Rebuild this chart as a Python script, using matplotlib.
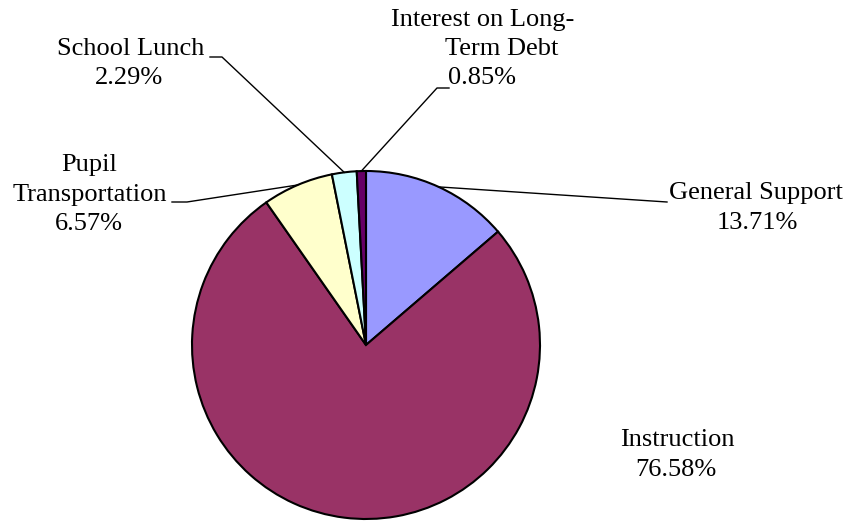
import numpy as np
import matplotlib
matplotlib.use("Agg")
import matplotlib.pyplot as plt

# Expenditure shares (percent)
categories = ["General Support", "Instruction", "Pupil Transportation",
              "School Lunch", "Interest on Long-Term Debt"]
shares = [13.71, 76.58, 6.57, 2.29, 0.85]
colors = ["#9999FF", "#993366", "#FFFFCC", "#CCFFFF", "#660066"]

W, H = 852, 521


def py(y):
    # pixel row (top origin) -> data y
    return H - y


fig = plt.figure(figsize=(W / 100, H / 100), dpi=100)
ax = fig.add_axes([0, 0, 1, 1])

cx, cy, r = 366, py(345), 174
wedges, _ = ax.pie(shares, colors=colors, startangle=90, counterclock=False,
                   center=(cx, cy), radius=r,
                   wedgeprops=dict(edgecolor="black", linewidth=1.5))

ax.set_xlim(0, W)
ax.set_ylim(0, H)
ax.set_aspect("equal")
ax.axis("off")

font = dict(family="Liberation Serif", fontsize=19, color="black",
            ha="center", va="center")

# label lines: text rows with their pixel positions
label_rows = {
    "General Support": [("General Support", 756, 193)],
    "Instruction": [("Instruction", 677, 440)],
    "Pupil Transportation": [("Pupil", 89, 165), ("Transportation", 90, 195)],
    "School Lunch": [("School Lunch", 131, 49)],
    "Interest on Long-Term Debt": [("Interest on Long-", 483, 20),
                                   ("Term Debt", 502, 49)],
}
pct_pos = {
    "General Support": (757, 223),
    "Instruction": (676, 470),
    "Pupil Transportation": (89, 224),
    "School Lunch": (129, 78),
    "Interest on Long-Term Debt": (482, 78),
}
# leader lines: label-side points, ending at the wedge middle on the rim
leaders = {
    "General Support": [(667, 202)],
    "Pupil Transportation": [(172, 202), (187, 202)],
    "School Lunch": [(210, 57), (222, 57)],
    "Interest on Long-Term Debt": [(449, 88), (437, 88)],
}

for name, share, w in zip(categories, shares, wedges):
    for txt, x, y in label_rows[name]:
        ax.text(x, py(y), txt, **font)
    x, y = pct_pos[name]
    ax.text(x, py(y), f"{share:.2f}%", **font)
    if name in leaders:
        mid = np.deg2rad((w.theta1 + w.theta2) / 2)
        ex, ey = cx + r * np.cos(mid), cy + r * np.sin(mid)
        xs = [p[0] for p in leaders[name]] + [ex]
        ys = [py(p[1]) for p in leaders[name]] + [ey]
        ax.plot(xs, ys, color="black", linewidth=1.0)

fig.savefig("out.png", dpi=100)
